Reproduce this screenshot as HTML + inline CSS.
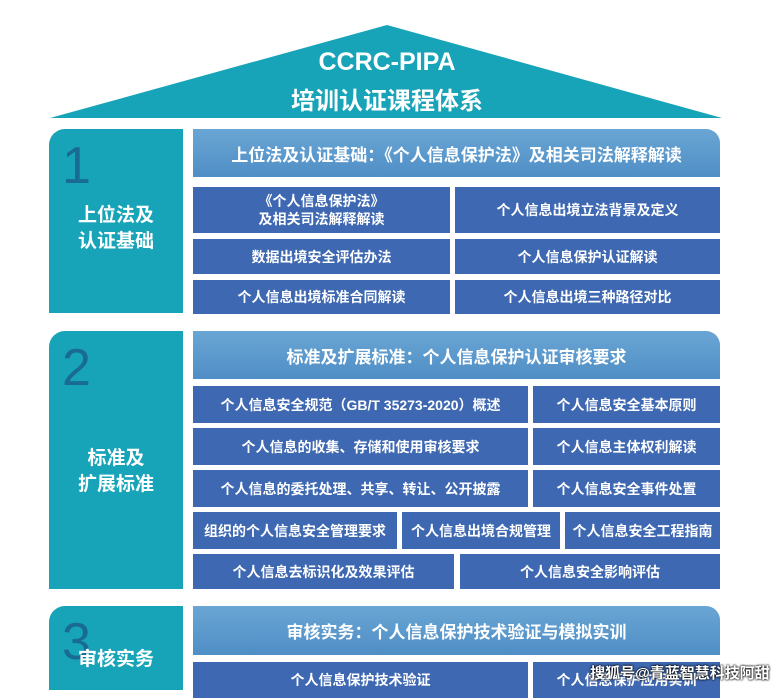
<!DOCTYPE html>
<html><head><meta charset="utf-8"><style>
body{margin:0;width:782px;height:690px;background:#fff;position:relative;overflow:hidden;font-family:"Liberation Sans","Noto Sans CJK SC",sans-serif;}
.a{position:absolute;display:flex;align-items:center;justify-content:center;text-align:center;color:#fff;font-weight:bold;box-sizing:border-box;}
.lp{background:#17a3b8;border-radius:16px 0 0 0;left:49px;width:134px;}
.hd{background:linear-gradient(#6aa6d4,#4f8ec6);left:193px;width:527px;height:48px;font-size:17px;border-radius:0 14px 0 0;}
.c{background:#3e68b1;font-size:14px;line-height:18px;}
.n{position:absolute;color:#1a6b94;font-size:52px;font-weight:normal;font-family:"Liberation Sans",sans-serif;left:62px;}
.lb{font-size:19px;line-height:26px;}
</style></head><body>
<svg style="position:absolute;left:0;top:0" width="782" height="130"><polygon points="50,118 387,25 722,118" fill="#17a3b8"/></svg>
<div class="a" style="left:250px;width:274px;top:44px;height:36px;font-size:25px">CCRC-PIPA</div>
<div class="a" style="left:250px;width:274px;top:80px;height:36px;font-size:24px">培训认证课程体系</div>

<div class="a lp" style="top:129px;height:184px"></div>
<div class="n" style="top:136px">1</div>
<div class="a lb" style="left:49px;width:134px;top:203px;height:52px">上位法及<br>认证基础</div>
<div class="a hd" style="top:129px">上位法及认证基础：《个人信息保护法》及相关司法解释解读</div>
<div class="a c" style="left:193px;width:257px;top:187px;height:46px">《个人信息保护法》<br>及相关司法解释解读</div>
<div class="a c" style="left:455px;width:265px;top:187px;height:46px">个人信息出境立法背景及定义</div>
<div class="a c" style="left:193px;width:257px;top:239px;height:35px">数据出境安全评估办法</div>
<div class="a c" style="left:455px;width:265px;top:239px;height:35px">个人信息保护认证解读</div>
<div class="a c" style="left:193px;width:257px;top:280px;height:34px">个人信息出境标准合同解读</div>
<div class="a c" style="left:455px;width:265px;top:280px;height:34px">个人信息出境三种路径对比</div>

<div class="a lp" style="top:331px;height:258px"></div>
<div class="n" style="top:338px">2</div>
<div class="a lb" style="left:49px;width:134px;top:446px;height:52px">标准及<br>扩展标准</div>
<div class="a hd" style="top:331px">标准及扩展标准：个人信息保护认证审核要求</div>
<div class="a c" style="left:193px;width:335px;top:386px;height:37px">个人信息安全规范（GB/T 35273-2020）概述</div>
<div class="a c" style="left:533px;width:187px;top:386px;height:37px">个人信息安全基本原则</div>
<div class="a c" style="left:193px;width:335px;top:428px;height:37px">个人信息的收集、存储和使用审核要求</div>
<div class="a c" style="left:533px;width:187px;top:428px;height:37px">个人信息主体权利解读</div>
<div class="a c" style="left:193px;width:335px;top:470px;height:37px">个人信息的委托处理、共享、转让、公开披露</div>
<div class="a c" style="left:533px;width:187px;top:470px;height:37px">个人信息安全事件处置</div>
<div class="a c" style="left:193px;width:204px;top:512px;height:37px">组织的个人信息安全管理要求</div>
<div class="a c" style="left:402px;width:158px;top:512px;height:37px">个人信息出境合规管理</div>
<div class="a c" style="left:565px;width:155px;top:512px;height:37px">个人信息安全工程指南</div>
<div class="a c" style="left:193px;width:261px;top:554px;height:35px">个人信息去标识化及效果评估</div>
<div class="a c" style="left:460px;width:260px;top:554px;height:35px">个人信息安全影响评估</div>

<div class="a lp" style="top:606px;height:84px"></div>
<div class="n" style="top:612px">3</div>
<div class="a lb" style="left:49px;width:134px;top:645px;height:30px">审核实务</div>
<div class="a hd" style="top:606px;height:49px">审核实务：个人信息保护技术验证与模拟实训</div>
<div class="a c" style="left:193px;width:335px;top:662px;height:36px">个人信息保护技术验证</div>
<div class="a c" style="left:533px;width:187px;top:662px;height:36px">个人信息保护应用实训</div>
<div class="a" style="left:580px;width:200px;top:660px;height:24px;font-size:15px;text-shadow:0 0 2px #000,0 0 2px #000">搜狐号@青蓝智慧科技阿甜</div>
</body></html>
